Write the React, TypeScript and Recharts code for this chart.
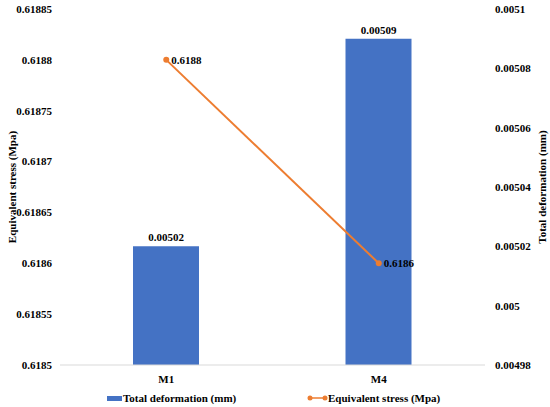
import React from "react";
import {
  Bar,
  ComposedChart,
  LabelList,
  Legend,
  Line,
  XAxis,
  YAxis,
} from "recharts";

const categories = ["M1", "M4"];
const totalDeformation = [0.00502, 0.00509];
const equivalentStress = [0.6188, 0.6186];

const stressTicks = [0.6185, 0.61855, 0.6186, 0.61865, 0.6187, 0.61875, 0.6188, 0.61885];
const deformationTicks = [0.00498, 0.005, 0.00502, 0.00504, 0.00506, 0.00508, 0.0051];

const data = categories.map((name, i) => ({
  name,
  deformation: totalDeformation[i],
  stress: equivalentStress[i],
}));

const FONT = '"Liberation Serif", "Times New Roman", serif';
const BLUE = "#4472C4";
const ORANGE = "#ED7D31";

const tickStyle = { fontFamily: FONT, fontSize: 11, fontWeight: 700, fill: "#000" };

const LegendRow = () => (
  <div
    style={{
      position: "relative",
      height: 20,
      fontFamily: FONT,
      fontSize: 11,
      fontWeight: 700,
      color: "#000",
    }}
  >
    <div style={{ position: "absolute", left: 107, top: 5, display: "flex", alignItems: "center" }}>
      <span style={{ display: "inline-block", width: 15, height: 5, background: BLUE, marginRight: 1 }} />
      <span>Total deformation (mm)</span>
    </div>
    <div style={{ position: "absolute", left: 307, top: 5, display: "flex", alignItems: "center" }}>
      <svg width={21} height={8} style={{ marginRight: 0 }}>
        <line x1={2} y1={4} x2={19} y2={4} stroke={ORANGE} strokeWidth={1.5} />
        <circle cx={3} cy={4} r={2.5} fill={ORANGE} />
        <circle cx={18} cy={4} r={2.5} fill={ORANGE} />
      </svg>
      <span>Equivalent stress (Mpa)</span>
    </div>
  </div>
);

const App: React.FC = () => {
  return (
    <div style={{ position: "absolute", left: 0, top: 0, width: 550, height: 407, background: "#fff" }}>
      <ComposedChart
        width={550}
        height={407}
        data={data}
        margin={{ top: 9, right: 0, bottom: 0, left: 0 }}
      >
        <XAxis
          dataKey="name"
          height={22}
          tickLine={false}
          tickMargin={4}
          axisLine={{ stroke: "#d9d9d9" }}
          tick={tickStyle}
        />
        <YAxis
          yAxisId="left"
          orientation="left"
          width={60}
          domain={[0.6185, 0.61885]}
          ticks={stressTicks}
          allowDataOverflow
          tickLine={false}
          axisLine={false}
          tick={tickStyle}
          tickFormatter={(v: number) => String(v)}
          label={{
            value: "Equivalent stress (Mpa)",
            angle: -90,
            position: "insideLeft",
            offset: 12,
            style: { textAnchor: "middle", fontFamily: FONT, fontSize: 11, fontWeight: 700, fill: "#000" },
          }}
        />
        <YAxis
          yAxisId="right"
          orientation="right"
          width={65}
          domain={[0.00498, 0.0051]}
          ticks={deformationTicks}
          allowDataOverflow
          tickLine={false}
          axisLine={false}
          tickMargin={4}
          tick={{ ...tickStyle, textAnchor: "start" }}
          tickFormatter={(v: number) => String(v)}
          label={{
            value: "Total deformation (mm)",
            angle: -90,
            position: "insideRight",
            offset: 8,
            style: { textAnchor: "middle", fontFamily: FONT, fontSize: 11, fontWeight: 700, fill: "#000" },
          }}
        />
        <Legend verticalAlign="bottom" height={20} content={() => <LegendRow />} />
        <Bar
          yAxisId="right"
          dataKey="deformation"
          name="Total deformation (mm)"
          fill={BLUE}
          barSize={66}
          isAnimationActive={false}
        >
          <LabelList
            dataKey="deformation"
            position="top"
            offset={5}
            style={{ fontFamily: FONT, fontSize: 11, fontWeight: 700, fill: "#000" }}
            formatter={(v: number) => String(v)}
          />
        </Bar>
        <Line
          yAxisId="left"
          dataKey="stress"
          name="Equivalent stress (Mpa)"
          type="linear"
          stroke={ORANGE}
          strokeWidth={2}
          dot={{ r: 3, fill: ORANGE, stroke: ORANGE, strokeWidth: 0 }}
          isAnimationActive={false}
        >
          <LabelList
            dataKey="stress"
            position="right"
            offset={5}
            style={{ fontFamily: FONT, fontSize: 11, fontWeight: 700, fill: "#000" }}
            formatter={(v: number) => String(v)}
          />
        </Line>
      </ComposedChart>
    </div>
  );
};

export default App;
